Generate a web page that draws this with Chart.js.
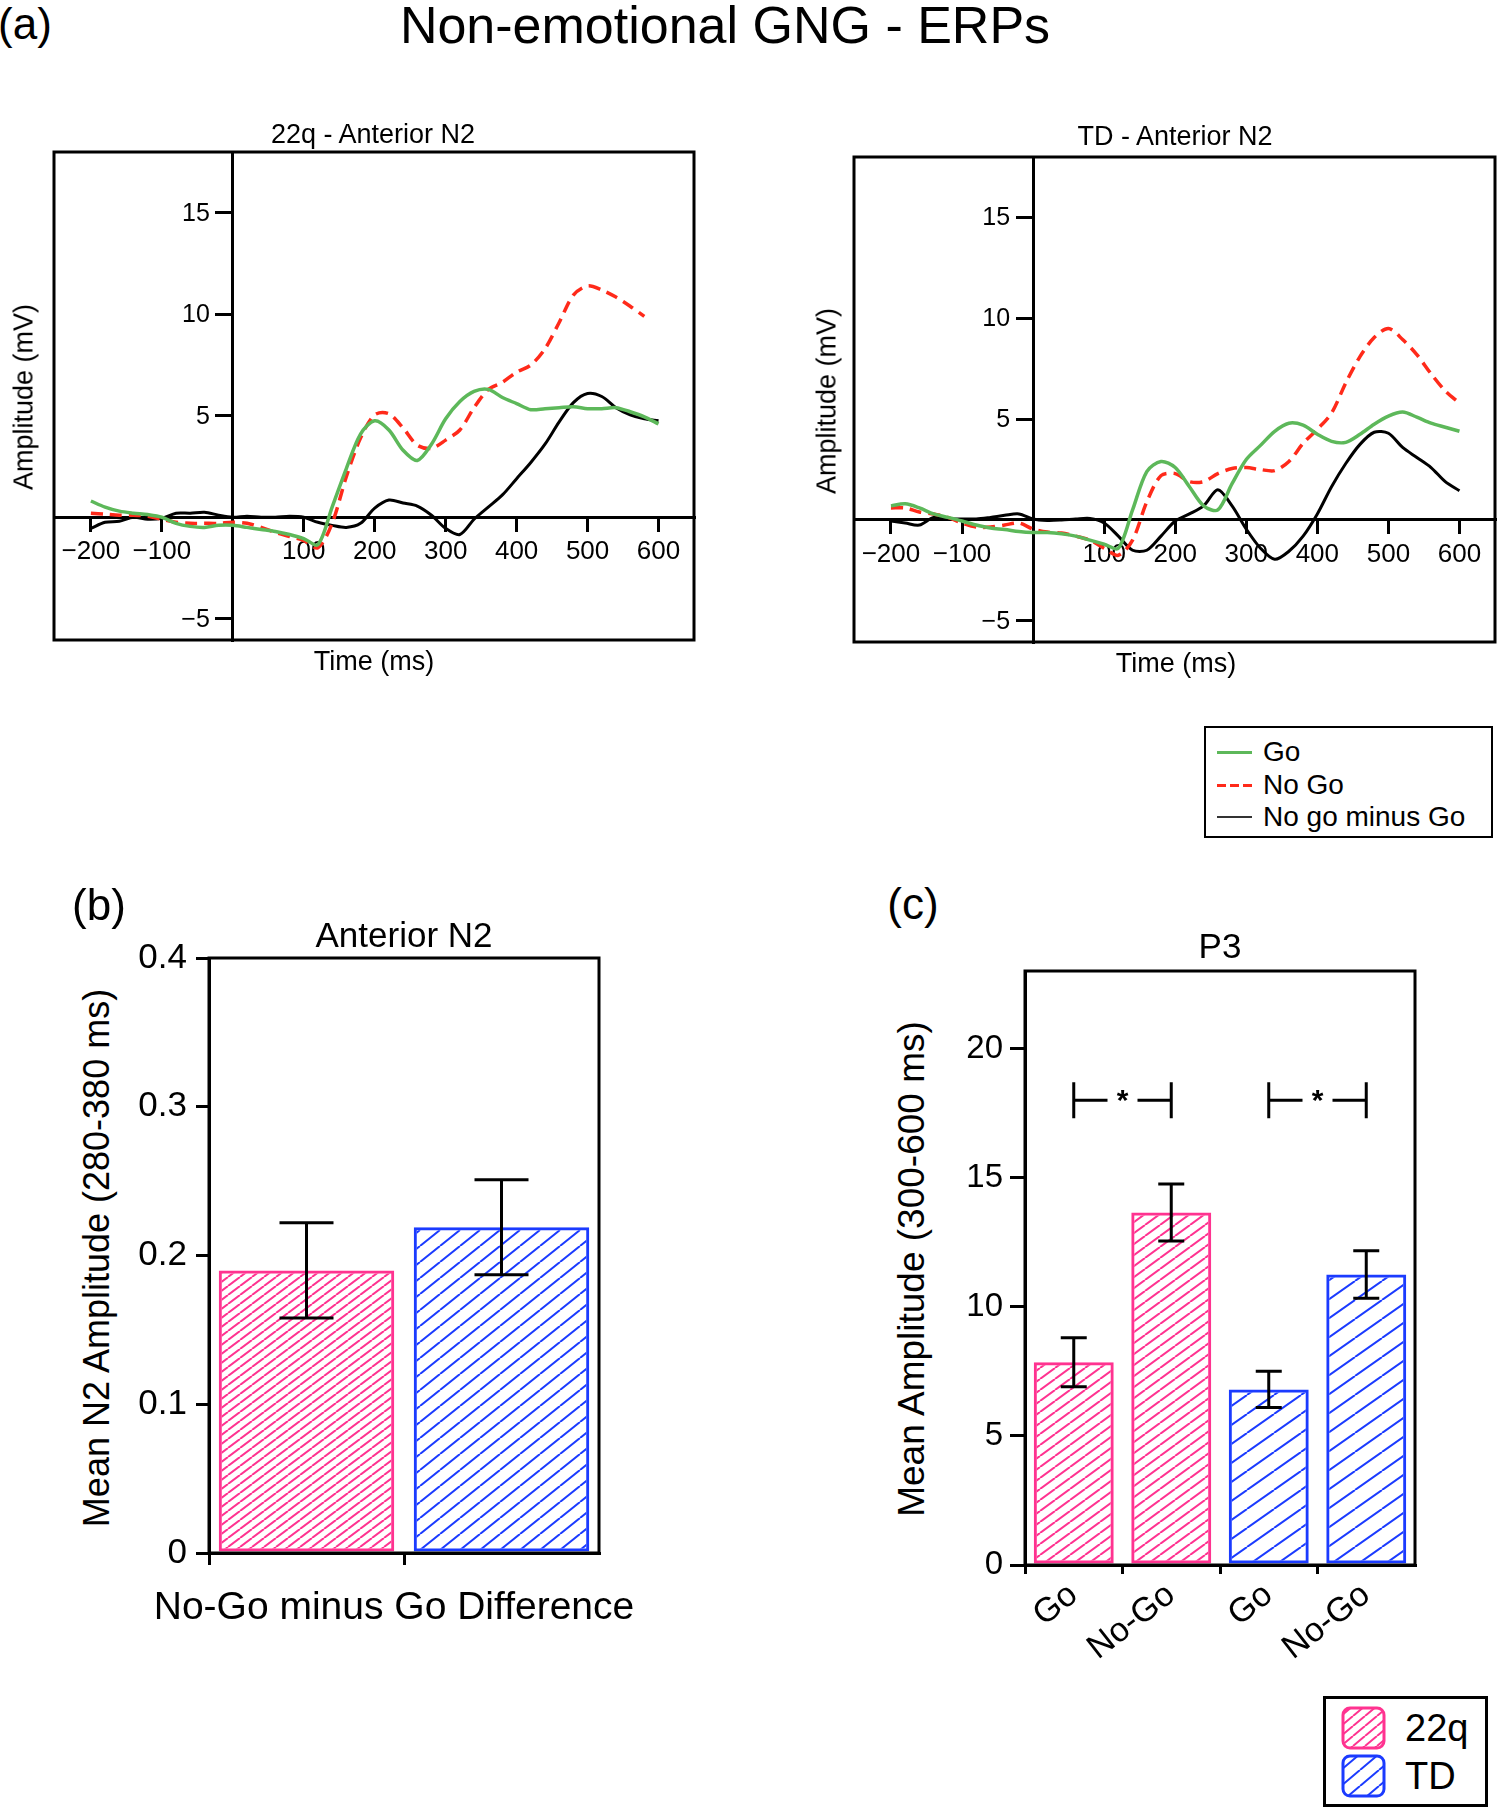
<!DOCTYPE html>
<html>
<head>
<meta charset="utf-8">
<script src="https://cdn.jsdelivr.net/npm/chart.js@4.4.1/dist/chart.umd.min.js"></script>
<style>
  html, body { margin: 0; padding: 0; background: #fff; }
  body { width: 1500px; height: 1809px; position: relative; overflow: hidden;
         font-family: "Liberation Sans", Arial, Helvetica, sans-serif; color: #000; }
  canvas { position: absolute; }
  .t { position: absolute; white-space: nowrap; line-height: 1; transform: translate(-50%, -50%); }
  .tl { position: absolute; white-space: nowrap; line-height: 1; transform: translateY(-50%); }
  .rot { transform: translate(-50%, -50%) rotate(-90deg); }
  .box { position: absolute; box-sizing: border-box; border: 2px solid #000; }
</style>
</head>
<body>

<div class="t" style="left:725px;top:25px;font-size:52px">Non-emotional GNG - ERPs</div>
<div class="t" style="left:25px;top:24px;font-size:44px">(a)</div>

<canvas id="erp22q" width="660" height="520" style="left:38px;top:136px"></canvas>
<canvas id="erpTD" width="661" height="517" style="left:838px;top:141px"></canvas>
<canvas id="barN2" width="490" height="664" style="left:120px;top:926px"></canvas>
<canvas id="barP3" width="480" height="736" style="left:950px;top:939px"></canvas>

<div class="t" style="left:373px;top:134px;font-size:27px">22q - Anterior N2</div>
<div class="t" style="left:374px;top:661px;font-size:27px">Time (ms)</div>
<div class="t rot" style="left:24px;top:397px;font-size:27px">Amplitude (mV)</div>

<div class="t" style="left:1175px;top:136px;font-size:27px">TD - Anterior N2</div>
<div class="t" style="left:1176px;top:663px;font-size:27px">Time (ms)</div>
<div class="t rot" style="left:827px;top:401px;font-size:27px">Amplitude (mV)</div>

<!-- legend (a) -->
<div class="box" style="left:1204px;top:726px;width:289px;height:112px"></div>
<div style="position:absolute;left:1217px;top:751px;width:35px;height:3px;background:#5db85a"></div>
<div style="position:absolute;left:1217px;top:784px;width:35px;height:3px;background:repeating-linear-gradient(90deg,#ff2a1a 0 9px,transparent 9px 13px)"></div>
<div style="position:absolute;left:1217px;top:816px;width:35px;height:2px;background:#333"></div>
<div class="tl" style="left:1263px;top:752px;font-size:28px">Go</div>
<div class="tl" style="left:1263px;top:785px;font-size:28px">No Go</div>
<div class="tl" style="left:1263px;top:817px;font-size:28px">No go minus Go</div>

<!-- panel (b) -->
<div class="t" style="left:99px;top:905px;font-size:44px">(b)</div>
<div class="t" style="left:404px;top:934px;font-size:35px">Anterior N2</div>
<div class="t rot" style="left:97px;top:1258px;font-size:36px">Mean N2 Amplitude (280-380 ms)</div>
<div class="t" style="left:394px;top:1605px;font-size:39px">No-Go minus Go Difference</div>

<!-- panel (c) -->
<div class="t" style="left:913px;top:904px;font-size:44px">(c)</div>
<div class="t" style="left:1220px;top:945px;font-size:35px">P3</div>
<div class="t rot" style="left:911px;top:1269px;font-size:37px">Mean Amplitude (300-600 ms)</div>

<!-- legend (c) -->
<div class="box" style="left:1323px;top:1696px;width:165px;height:111px;border-width:3px"></div>
<canvas id="sw22q" width="45" height="44" style="left:1341px;top:1706px"></canvas>
<canvas id="swTD" width="45" height="44" style="left:1341px;top:1754px"></canvas>
<div class="tl" style="left:1405px;top:1728px;font-size:38px">22q</div>
<div class="tl" style="left:1405px;top:1776px;font-size:38px">TD</div>

<script>
// ---- data ----
const erpTime = [-200, -180, -160, -140, -120, -100, -80, -60, -40, -20, 0, 20, 40, 60, 80, 100, 120, 140, 160, 180,
                 200, 220, 240, 260, 280, 300, 320, 340, 360, 380, 400, 420, 440, 460, 480, 500, 520, 540, 560, 580, 600];

const go22q   = [0.8, 0.5, 0.3, 0.2, 0.13, 0.0, -0.3, -0.45, -0.5, -0.4, -0.4, -0.5, -0.6, -0.7, -0.85, -1.05, -1.35, 0.5, 2.4, 4.1,
                 4.75, 4.3, 3.3, 2.8, 3.6, 4.85, 5.7, 6.2, 6.3, 5.9, 5.6, 5.3, 5.35, 5.4, 5.45, 5.35, 5.35, 5.4, 5.2, 4.95, 4.6];
const nogo22q = [0.2, 0.15, 0.1, 0.1, 0.05, -0.1, -0.25, -0.3, -0.3, -0.3, -0.25, -0.3, -0.5, -0.75, -0.95, -1.15, -1.5, -0.3, 2.0, 3.9,
                 5.05, 5.1, 4.4, 3.55, 3.4, 3.8, 4.3, 5.4, 6.3, 6.65, 7.15, 7.5, 8.3, 9.6, 10.95, 11.4, 11.2, 10.85, 10.4, 9.9, null];
const diff22q = [-0.55, -0.25, -0.2, 0.0, -0.1, -0.05, 0.2, 0.2, 0.25, 0.1, 0.0, 0.05, 0.0, 0.0, 0.05, 0.0, -0.25, -0.4, -0.5, -0.3,
                 0.45, 0.85, 0.7, 0.55, 0.1, -0.55, -0.85, -0.1, 0.5, 1.1, 1.9, 2.7, 3.6, 4.7, 5.65, 6.1, 5.95, 5.4, 5.05, 4.85, 4.75];

const goTD    = [0.7, 0.8, 0.6, 0.3, 0.13, -0.05, -0.25, -0.4, -0.47, -0.57, -0.62, -0.62, -0.68, -0.8, -1.0, -1.2, -1.4, 0.5, 2.4, 2.9,
                 2.6, 1.65, 0.7, 0.5, 1.8, 3.0, 3.7, 4.4, 4.8, 4.7, 4.25, 3.9, 3.85, 4.25, 4.75, 5.15, 5.35, 5.1, 4.8, 4.6, 4.4];
const nogoTD  = [0.6, 0.6, 0.4, 0.3, 0.13, -0.15, -0.35, -0.35, -0.25, -0.15, -0.45, -0.6, -0.65, -0.8, -1.0, -1.4, -1.75, -1.0, 0.9, 2.2,
                 2.3, 1.9, 1.9, 2.3, 2.55, 2.6, 2.5, 2.45, 2.9, 3.8, 4.5, 5.3, 6.8, 8.1, 9.05, 9.5, 8.95, 8.2, 7.25, 6.4, 5.8];
const diffTD  = [-0.05, -0.15, -0.25, 0.13, 0.05, 0.05, 0.05, 0.13, 0.23, 0.3, 0.05, -0.02, 0.0, 0.05, 0.08, -0.15, -0.8, -1.5, -1.5, -0.8,
                 -0.05, 0.3, 0.7, 1.5, 0.7, -0.45, -1.4, -1.95, -1.55, -0.8, 0.3, 1.65, 2.8, 3.75, 4.35, 4.3, 3.6, 3.1, 2.6, 1.9, 1.45];

const erpXTicks = [-200, -100, 100, 200, 300, 400, 500, 600];
const erpYTicks = [-5, 5, 10, 15];

const n2Groups = ['22q', 'TD'];
const n2Means = [0.19, 0.219];
const n2Err = [0.032, 0.032];
const n2Ticks = [0, 0.1, 0.2, 0.3, 0.4];

const p3Labels = ['Go', 'No-Go', 'Go', 'No-Go'];
const p3Means = [7.85, 13.65, 6.8, 11.25];
const p3Err = [0.95, 1.1, 0.7, 0.92];
const p3Ticks = [0, 5, 10, 15, 20];
const sigPairs = [[0, 1], [2, 3]];
const sigLevel = 18;

// ---- styling ----
const GREEN = '#5db85a', RED = '#ff2a1a', PINK = '#ff3390', BLUE = '#1b3bff';
const FONT = '"Liberation Sans", Arial, Helvetica, sans-serif';
Chart.defaults.font.family = FONT;
Chart.defaults.color = '#000';

function minus(v) { return v < 0 ? '\u2212' + Math.abs(v) : String(v); }

// no tick mark on the closing boundary of an offset category axis
function tickColor(c) { return c.index === undefined ? 'rgba(0,0,0,0)' : '#000'; }

// diagonal hatch tile, w x h, lines going "/"
function hatch(color, w, h, lw) {
    const c = document.createElement('canvas');
    c.width = w; c.height = h;
    const g = c.getContext('2d');
    g.strokeStyle = color; g.lineWidth = lw;
    g.beginPath();
    for (let k = -1; k <= 1; k++) {
        g.moveTo(k * w, h); g.lineTo((k + 1) * w, 0);
    }
    g.stroke();
    return g.createPattern(c, 'repeat');
}

const frame = {
    id: 'frame',
    afterDraw(chart) {
        const a = chart.chartArea, ctx = chart.ctx;
        ctx.save();
        ctx.strokeStyle = '#000'; ctx.lineWidth = 3;
        ctx.strokeRect(a.left, a.top, a.right - a.left, a.bottom - a.top);
        ctx.restore();
    }
};

// y tick labels next to the crossing axis
const erpYLabels = {
    id: 'erpYLabels',
    afterDraw(chart) {
        const ctx = chart.ctx, x = chart.scales.x, y = chart.scales.y;
        const x0 = x.getPixelForValue(0);
        ctx.save();
        ctx.font = '25px ' + FONT;
        ctx.fillStyle = '#000'; ctx.textAlign = 'right'; ctx.textBaseline = 'middle';
        y.ticks.forEach(t => ctx.fillText(minus(t.value), x0 - 23, y.getPixelForValue(t.value) + 1));
        ctx.restore();
    }
};

const errorBars = {
    id: 'errorBars',
    afterDatasetsDraw(chart, args, opts) {
        const ctx = chart.ctx, y = chart.scales.y;
        const vals = chart.data.datasets[0].data;
        ctx.save();
        ctx.strokeStyle = '#000'; ctx.lineWidth = 3;
        chart.getDatasetMeta(0).data.forEach((bar, i) => {
            const top = y.getPixelForValue(vals[i] + opts.err[i]);
            const bot = y.getPixelForValue(vals[i] - opts.err[i]);
            ctx.beginPath();
            ctx.moveTo(bar.x, top); ctx.lineTo(bar.x, bot);
            ctx.moveTo(bar.x - opts.cap, top); ctx.lineTo(bar.x + opts.cap, top);
            ctx.moveTo(bar.x - opts.cap, bot); ctx.lineTo(bar.x + opts.cap, bot);
            ctx.stroke();
        });
        ctx.restore();
    }
};

const sigBars = {
    id: 'sigBars',
    afterDatasetsDraw(chart, args, opts) {
        if (!opts.pairs) return;
        const ctx = chart.ctx, y = chart.scales.y, bars = chart.getDatasetMeta(0).data;
        const yy = y.getPixelForValue(opts.level);
        ctx.save();
        ctx.strokeStyle = '#000'; ctx.lineWidth = 3;
        ctx.fillStyle = '#000'; ctx.font = 'bold 30px ' + FONT;
        ctx.textAlign = 'center'; ctx.textBaseline = 'middle';
        opts.pairs.forEach(p => {
            const xa = bars[p[0]].x, xb = bars[p[1]].x, mid = (xa + xb) / 2;
            ctx.beginPath();
            ctx.moveTo(xa, yy - 18); ctx.lineTo(xa, yy + 18);
            ctx.moveTo(xa, yy); ctx.lineTo(mid - 15, yy);
            ctx.moveTo(mid + 15, yy); ctx.lineTo(xb, yy);
            ctx.moveTo(xb, yy - 18); ctx.lineTo(xb, yy + 18);
            ctx.stroke();
            ctx.fillText('*', mid, yy + 2);
        });
        ctx.restore();
    }
};

function erpChart(id, go, nogo, diff) {
    const pts = arr => erpTime.map((t, i) => ({x: t, y: arr[i]}));
    return new Chart(document.getElementById(id), {
        type: 'line',
        data: {
            datasets: [
                {label: 'Go', data: pts(go), borderColor: GREEN, borderWidth: 3.5},
                {label: 'No Go', data: pts(nogo), borderColor: RED, borderWidth: 3.5, borderDash: [12, 7]},
                {label: 'No go minus Go', data: pts(diff), borderColor: '#000', borderWidth: 3}
            ]
        },
        options: {
            responsive: false,
            animation: false,
            layout: {padding: {left: 16, top: 16, bottom: 16, right: 4}},
            elements: {point: {radius: 0}, line: {tension: 0.3}},
            plugins: {legend: {display: false}, tooltip: {enabled: false}},
            scales: {
                x: {
                    type: 'linear', min: -252, max: 650,
                    position: {y: 0},
                    afterBuildTicks: s => { s.ticks = erpXTicks.map(v => ({value: v})); },
                    grid: {drawOnChartArea: false, drawTicks: true, tickLength: 13, color: '#000', lineWidth: 3},
                    border: {display: true, color: '#000', width: 3},
                    ticks: {font: {size: 26}, padding: 6, maxRotation: 0, autoSkip: false, callback: v => minus(v)}
                },
                y: {
                    type: 'linear', min: -6.05, max: 18,
                    position: {x: 0},
                    afterBuildTicks: s => { s.ticks = erpYTicks.map(v => ({value: v})); },
                    grid: {drawOnChartArea: false, drawTicks: true, tickLength: 16, color: '#000', lineWidth: 3},
                    border: {display: true, color: '#000', width: 3},
                    ticks: {display: false, padding: 0}
                }
            }
        },
        plugins: [frame, erpYLabels]
    });
}

erpChart('erp22q', go22q, nogo22q, diff22q);
erpChart('erpTD', goTD, nogoTD, diffTD);

// panel (b)
new Chart(document.getElementById('barN2'), {
    type: 'bar',
    data: {
        labels: n2Groups,
        datasets: [{
            data: n2Means,
            backgroundColor: [hatch(PINK, 12, 9, 2), hatch(BLUE, 20, 16, 2)],
            borderColor: [PINK, BLUE],
            borderWidth: 3,
            borderSkipped: false,
            barPercentage: 0.9,
            categoryPercentage: 1
        }]
    },
    options: {
        responsive: false,
        animation: false,
        layout: {padding: {top: 32, right: 11, left: 0, bottom: 0}},
        plugins: {legend: {display: false}, tooltip: {enabled: false}, errorBars: {err: n2Err, cap: 27}},
        scales: {
            x: {
                afterFit: s => { s.height = 37; },
                grid: {offset: true, drawOnChartArea: false, tickLength: 12, color: tickColor, lineWidth: 3},
                border: {color: '#000', width: 3},
                ticks: {display: false}
            },
            y: {
                min: 0, max: 0.4,
                afterBuildTicks: s => { s.ticks = n2Ticks.map(v => ({value: v})); },
                afterFit: s => { s.width = 89; },
                grid: {drawOnChartArea: false, tickLength: 13, color: '#000', lineWidth: 3},
                border: {color: '#000', width: 3},
                ticks: {font: {size: 35}, padding: 9}
            }
        }
    },
    plugins: [errorBars, frame]
});

// panel (c)
new Chart(document.getElementById('barP3'), {
    type: 'bar',
    data: {
        labels: p3Labels,
        datasets: [{
            data: p3Means,
            backgroundColor: [hatch(PINK, 15, 11, 2), hatch(PINK, 15, 11, 2), hatch(BLUE, 27, 19, 2), hatch(BLUE, 27, 19, 2)],
            borderColor: [PINK, PINK, BLUE, BLUE],
            borderWidth: 3,
            borderSkipped: false,
            barPercentage: 0.82,
            categoryPercentage: 1
        }]
    },
    options: {
        responsive: false,
        animation: false,
        layout: {padding: {top: 32, right: 15, left: 0, bottom: 0}},
        plugins: {
            legend: {display: false}, tooltip: {enabled: false},
            errorBars: {err: p3Err, cap: 13},
            sigBars: {pairs: sigPairs, level: sigLevel}
        },
        scales: {
            x: {
                afterFit: s => { s.height = 110; },
                grid: {offset: true, drawOnChartArea: false, tickLength: 9, color: tickColor, lineWidth: 3},
                border: {color: '#000', width: 3},
                ticks: {font: {size: 34}, minRotation: 38, maxRotation: 38, padding: 1, autoSkip: false}
            },
            y: {
                min: 0, max: 23,
                afterBuildTicks: s => { s.ticks = p3Ticks.map(v => ({value: v})); },
                afterFit: s => { s.width = 75; },
                grid: {drawOnChartArea: false, tickLength: 15, color: '#000', lineWidth: 3},
                border: {color: '#000', width: 3},
                ticks: {font: {size: 33}, padding: 7}
            }
        }
    },
    plugins: [errorBars, sigBars, frame]
});

// legend swatches for (c)
function swatch(id, color, pattern) {
    const c = document.getElementById(id), g = c.getContext('2d');
    g.beginPath();
    g.roundRect(2, 2, 41, 40, 7);
    g.fillStyle = pattern; g.fill();
    g.strokeStyle = color; g.lineWidth = 3; g.stroke();
}
swatch('sw22q', PINK, hatch(PINK, 12, 10, 2));
swatch('swTD', BLUE, hatch(BLUE, 19, 16, 2));
</script>
</body>
</html>
